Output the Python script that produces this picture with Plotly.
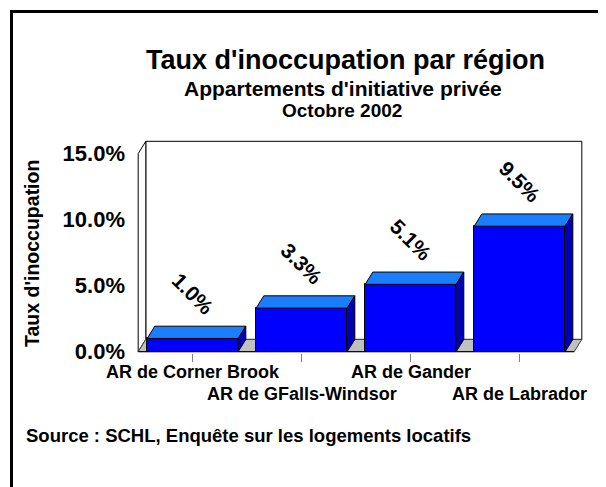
import plotly.graph_objects as go

categories = ["AR de Corner Brook", "AR de GFalls-Windsor", "AR de Gander", "AR de Labrador"]
values = [1.0, 3.3, 5.1, 9.5]
value_labels = ["1.0%", "3.3%", "5.1%", "9.5%"]
ytick_vals = [0, 5, 10, 15]
ytick_text = ["0.0%", "5.0%", "10.0%", "15.0%"]

FONT = "Liberation Sans, Arial, sans-serif"
W, H = 606, 487
BW = 0.835          # bar width (category units)
DX, DY = 0.07, 0.93  # 3D depth offsets (x units, % units)
YMAX = 15
pad_x, pad_y = 0.02, 0.1
xr = [-0.5 - pad_x, 3.5 + DX + pad_x]
yr = [-pad_y, YMAX + DY + pad_y]

# the page adds an 8px body margin, so figure coords = page coords - 8
OFF = 8
L, T, B = 128, 132, 142
plot_w = 448
R = W - L - plot_w
plot_h = H - T - B

front = "#0000FF"
top_c = "#1A7EFF"
side_c = "#0000B4"

fig = go.Figure()

# front faces
fig.add_trace(go.Bar(
    x=list(range(len(values))), y=values, width=BW,
    marker=dict(color=front, line=dict(color="black", width=1)),
    hoverinfo="skip", showlegend=False))

# top and side faces
for i, v in enumerate(values):
    x0, x1 = i - BW / 2, i + BW / 2
    fig.add_trace(go.Scatter(
        x=[x0, x1, x1 + DX, x0 + DX, x0], y=[v, v, v + DY, v + DY, v],
        mode="lines", fill="toself", fillcolor=top_c,
        line=dict(color="black", width=1), hoverinfo="skip", showlegend=False))
    fig.add_trace(go.Scatter(
        x=[x1, x1 + DX, x1 + DX, x1, x1], y=[0, DY, v + DY, v, 0],
        mode="lines", fill="toself", fillcolor=side_c,
        line=dict(color="black", width=1), hoverinfo="skip", showlegend=False))

# walls and floor (below traces)
xl, xrr = -0.5, 3.5
shapes = [
    dict(type="path", layer="below",
         path=f"M {xl+DX},{DY} L {xl+DX},{YMAX+DY} L {xrr+DX},{YMAX+DY} L {xrr+DX},{DY} Z",
         fillcolor="white", line=dict(color="black", width=1)),
    dict(type="path", layer="below",
         path=f"M {xl},0 L {xl},{YMAX} L {xl+DX},{YMAX+DY} L {xl+DX},{DY} Z",
         fillcolor="white", line=dict(color="black", width=1)),
    dict(type="path", layer="below",
         path=f"M {xl},0 L {xrr},0 L {xrr+DX},{DY} L {xl+DX},{DY} Z",
         fillcolor="#C0C0C0", line=dict(color="#404040", width=1)),
    dict(type="line", layer="above", x0=xl, x1=xrr, y0=0, y1=0,
         line=dict(color="black", width=1)),
]

annotations = []
# value labels
for i, (v, t) in enumerate(zip(values, value_labels)):
    annotations.append(dict(x=i, y=v, xref="x", yref="y", text=t, showarrow=False,
                            textangle=45, yshift=45, xanchor="center", yanchor="middle",
                            font=dict(family=FONT, size=21, color="black", weight="bold")))
# staggered category labels
for i, c in enumerate(categories):
    annotations.append(dict(x=i, y=0, xref="x", yref="y", text=c, showarrow=False,
                            xanchor="center", yanchor="middle",
                            yshift=-20 if i % 2 == 0 else -42,
                            font=dict(family=FONT, size=18, color="black", weight="bold")))

def px_x(p):
    return (p - OFF - L) / plot_w

def px_y(p):
    return (H - B - (p - OFF)) / plot_h

annotations += [
    dict(x=px_x(345), y=px_y(60), xref="paper", yref="paper", showarrow=False,
         xanchor="center", yanchor="middle",
         text="Taux d'inoccupation par région",
         font=dict(family=FONT, size=27, color="black", weight="bold")),
    dict(x=px_x(343), y=px_y(88), xref="paper", yref="paper", showarrow=False,
         xanchor="center", yanchor="middle",
         text="Appartements d'initiative privée",
         font=dict(family=FONT, size=21, color="black", weight="bold")),
    dict(x=px_x(342), y=px_y(110), xref="paper", yref="paper", showarrow=False,
         xanchor="center", yanchor="middle",
         text="Octobre 2002",
         font=dict(family=FONT, size=19, color="black", weight="bold")),
    dict(x=px_x(32), y=px_y(254), xref="paper", yref="paper", showarrow=False,
         xanchor="center", yanchor="middle",
         text="Taux d'inoccupation", textangle=-90,
         font=dict(family=FONT, size=19.5, color="black", weight="bold")),
    dict(x=px_x(24), y=px_y(435), xref="paper", yref="paper", showarrow=False,
         xanchor="left", yanchor="middle",
         text="Source : SCHL, Enquête sur les logements locatifs",
         font=dict(family=FONT, size=18.5, color="black", weight="bold")),
]

# outer frame (only top and left edges fall inside the window)
frame = [
    dict(type="rect", xref="paper", yref="paper", layer="above",
         x0=px_x(11.5), x1=px_x(700), y0=px_y(11.5), y1=px_y(600),
         line=dict(color="black", width=3), fillcolor="rgba(0,0,0,0)"),
]

fig.update_layout(
    width=W, height=H,
    margin=dict(l=L, r=R, t=T, b=B, autoexpand=False),
    paper_bgcolor="white", plot_bgcolor="rgba(0,0,0,0)",
    showlegend=False,
    xaxis=dict(range=xr, showgrid=False, zeroline=False, showline=False,
               tickmode="array", tickvals=list(range(len(categories))),
               ticktext=[""] * len(categories), ticks="outside", ticklen=8,
               tickcolor="#808080", tickwidth=1, fixedrange=True),
    yaxis=dict(range=yr, showgrid=False, zeroline=False, showline=False,
               tickmode="array", tickvals=ytick_vals, ticktext=ytick_text,
               ticks="", ticklabelstandoff=10,
               tickfont=dict(family=FONT, size=22, color="black", weight="bold"),
               fixedrange=True),
    shapes=shapes + frame,
    annotations=annotations,
    bargap=0,
)

fig.write_html("out.html")
